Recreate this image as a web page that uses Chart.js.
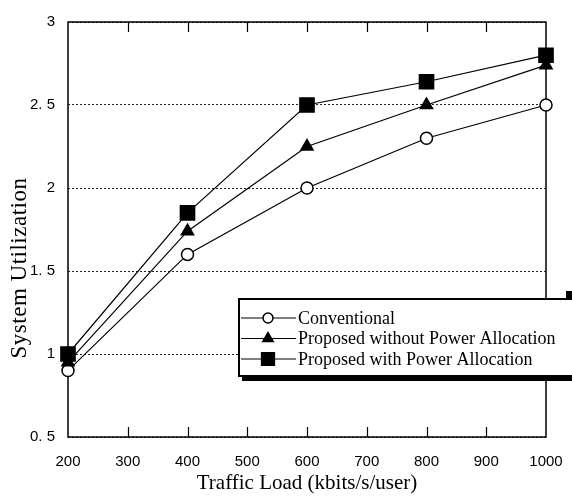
<!DOCTYPE html>
<html>
<head>
<meta charset="utf-8">
<script src="https://cdn.jsdelivr.net/npm/chart.js@4.4.1/dist/chart.umd.min.js"></script>
<style>
  html, body { margin: 0; padding: 0; background: #fff; }
  #wrap { width: 572px; height: 498px; }
</style>
</head>
<body>
<div id="wrap"><canvas id="chart" width="572" height="498"></canvas></div>
<script>
/* data */
const loads = [200, 400, 600, 800, 1000];
const seriesNames = ['Conventional', 'Proposed without Power Allocation', 'Proposed with Power Allocation'];
const conventional = [0.9, 1.6, 2.0, 2.3, 2.5];
const withoutPA = [0.95, 1.74, 2.25, 2.5, 2.74];
const withPA = [1.0, 1.85, 2.5, 2.64, 2.8];
const yTicks = [0.5, 1, 1.5, 2, 2.5, 3];

const SERIF = "'Liberation Serif', 'Times New Roman', serif";
const SANS = "'Liberation Sans', Arial, sans-serif";

const styles = [
  { pointStyle: 'circle', radius: 6, fill: '#fff' },
  { pointStyle: 'triangle', radius: 7, fill: '#000' },
  { pointStyle: 'rect', radius: 10, fill: '#000' },
];

function pts(vals) {
  return loads.map((x, i) => ({ x, y: vals[i] }));
}

function fmtY(v) {
  if (Number.isInteger(v)) return String(v);
  return v.toFixed(1).replace('.', '. ');
}

/* box frame + inward x ticks */
const framePlugin = {
  id: 'frame',
  beforeDatasetsDraw(chart) {
    const { ctx, chartArea: a } = chart;
    const xs = chart.scales.x;
    ctx.save();
    ctx.strokeStyle = '#000';
    ctx.lineWidth = 1.5;
    ctx.strokeRect(a.left, a.top, a.right - a.left, a.bottom - a.top);
    ctx.lineWidth = 1.2;
    ctx.beginPath();
    xs.ticks.forEach(t => {
      if (t.value <= xs.min || t.value >= xs.max) return;
      const px = Math.round(xs.getPixelForValue(t.value)) + 0.5;
      ctx.moveTo(px, a.top);
      ctx.lineTo(px, a.top + 10);
      ctx.moveTo(px, a.bottom);
      ctx.lineTo(px, a.bottom - 10);
    });
    ctx.stroke();
    // y axis title, sits lower than the plot centre in the original
    ctx.translate(20, 268);
    ctx.rotate(-Math.PI / 2);
    ctx.font = '23px ' + SERIF;
    ctx.letterSpacing = '0.5px';
    ctx.fillStyle = '#000';
    ctx.textAlign = 'center';
    ctx.textBaseline = 'middle';
    ctx.fillText('System Utilization', 0, 0);
    ctx.restore();
  },
};

/* boxed legend with drop shadow */
const legendPlugin = {
  id: 'boxLegend',
  afterDraw(chart) {
    const { ctx } = chart;
    const x0 = 238, y0 = 298, w = 345, h = 79;
    ctx.save();
    ctx.fillStyle = '#000';
    ctx.fillRect(x0 + 4, y0 + 4, w, h);
    ctx.fillRect(566, 291, 8, 8);
    ctx.fillStyle = '#fff';
    ctx.fillRect(x0, y0, w, h);
    ctx.strokeStyle = '#000';
    ctx.lineWidth = 2;
    ctx.strokeRect(x0 + 1, y0 + 1, w, h - 2);
    ctx.font = '18px ' + SERIF;
    ctx.textBaseline = 'middle';
    ctx.fillStyle = '#000';
    seriesNames.forEach((name, i) => {
      const y = 318 + i * 20.5;
      ctx.lineWidth = 1.2;
      ctx.beginPath();
      ctx.moveTo(241, y);
      ctx.lineTo(296, y);
      ctx.stroke();
      const s = styles[i];
      ctx.fillStyle = s.fill;
      ctx.lineWidth = 1.5;
      Chart.helpers.drawPoint(ctx, { pointStyle: s.pointStyle, radius: s.radius - 1, borderWidth: 1.5 }, 268, y);
      ctx.fillStyle = '#000';
      ctx.fillText(name, 298, y + 1);
    });
    ctx.restore();
  },
};

const datasets = [conventional, withoutPA, withPA].map((vals, i) => ({
  label: seriesNames[i],
  data: pts(vals),
  borderColor: '#000',
  borderWidth: 1.2,
  pointStyle: styles[i].pointStyle,
  pointRadius: styles[i].radius,
  pointBackgroundColor: styles[i].fill,
  pointBorderColor: '#000',
  pointBorderWidth: 1.5,
  tension: 0,
  clip: false,
  order: 2 - i,
}));

new Chart(document.getElementById('chart'), {
  type: 'line',
  data: { datasets },
  options: {
    responsive: false,
    animation: false,
    layout: { padding: { top: 19, right: 26, left: 0, bottom: 0 } },
    plugins: { legend: { display: false }, tooltip: { enabled: false } },
    scales: {
      x: {
        type: 'linear',
        min: 200,
        max: 1000,
        ticks: { stepSize: 100, color: '#000', padding: 8, font: { family: SANS, size: 15 }, callback: (v) => String(v) },
        grid: { display: false },
        border: { display: false },
        title: { display: true, text: 'Traffic Load (kbits/s/user)', color: '#000', padding: { top: 0, bottom: 2 }, font: { family: SERIF, size: 21 } },
        afterFit: (s) => { s.height = 61; },
      },
      y: {
        min: 0.5,
        max: 3,
        afterBuildTicks: (s) => { s.ticks = yTicks.map(v => ({ value: v })); },
        ticks: { color: '#000', padding: 13, font: { family: SANS, size: 15 }, callback: (v) => fmtY(v) },
        grid: { color: '#222', lineWidth: 1, drawTicks: false },
        border: { display: false, dash: [2, 2] },
        afterFit: (s) => { s.width = 68; },
      },
    },
  },
  plugins: [framePlugin, legendPlugin],
});
</script>
</body>
</html>
